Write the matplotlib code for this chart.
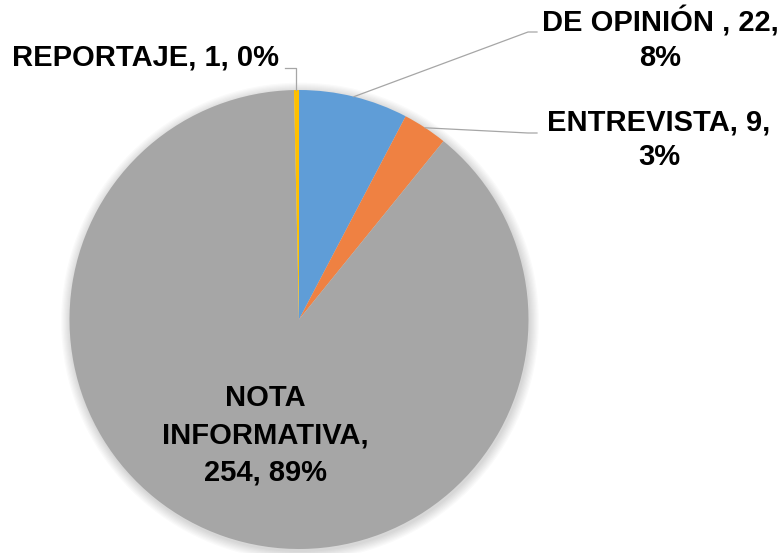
import numpy as np
import matplotlib
matplotlib.use('Agg')
import matplotlib.pyplot as plt

categorias = ['DE OPINIÓN ', 'ENTREVISTA', 'NOTA INFORMATIVA', 'REPORTAJE']
valores = [22, 9, 254, 1]
etiquetas = ['DE OPINIÓN , 22,\n8%', 'ENTREVISTA, 9,\n3%', 'NOTA\nINFORMATIVA,\n254, 89%', 'REPORTAJE, 1, 0%']
colores = ['#5F9DD7', '#EF8142', '#A6A6A6', '#FFC000']

W, H = 781, 553
fig = plt.figure(figsize=(W / 100, H / 100), dpi=100)
ax = fig.add_axes([0, 0, 1, 1])
ax.set_xlim(0, W)
ax.set_ylim(0, H)
ax.set_aspect('equal')
ax.axis('off')

cx, cy, R = 299, H - 319.5, 229.5    # centro y radio del pastel (px)

# sombra suave
for i in range(8):
    c = plt.Circle((cx + 1, cy - 2), R + 1 + i * 1.2, color='black', alpha=0.018, lw=0, zorder=0)
    ax.add_patch(c)

wedges, _ = ax.pie(valores, colors=colores, startangle=90, counterclock=False,
                   center=(cx, cy), radius=R, frame=True,
                   wedgeprops=dict(linewidth=0))
ax.set_xlim(0, W)
ax.set_ylim(0, H)
ax.axis('off')

fuente = dict(family=['Liberation Sans', 'DejaVu Sans'], weight='bold', size=21, color='black')
gris = '#A6A6A6'

def punto(w):
    a = np.deg2rad((w.theta1 + w.theta2) / 2)
    return cx + R * np.cos(a), cy + R * np.sin(a)

# DE OPINIÓN
px, py = punto(wedges[0])
ax.plot([px, 528, 537], [py, H - 32, H - 32], color=gris, lw=0.9, zorder=3)
ax.text(660, H - 39, etiquetas[0], ha='center', va='center', multialignment='center',
        linespacing=1.3, **fuente)

# ENTREVISTA
px, py = punto(wedges[1])
ax.plot([px, 528, 537], [py, H - 133, H - 133], color=gris, lw=0.9, zorder=3)
ax.text(659, H - 140, etiquetas[1], ha='center', va='center', multialignment='center',
        linespacing=1.3, **fuente)

# NOTA INFORMATIVA
ax.text(265, H - 435, etiquetas[2], ha='center', va='center', multialignment='center',
        linespacing=1.42, **fuente)

# REPORTAJE
px, py = punto(wedges[3])
ax.plot([285, px, px], [H - 68, H - 68, py], color=gris, lw=0.9, zorder=3)
ax.text(279, H - 58, etiquetas[3], ha='right', va='center', **fuente)

fig.savefig('out.png', dpi=100)
